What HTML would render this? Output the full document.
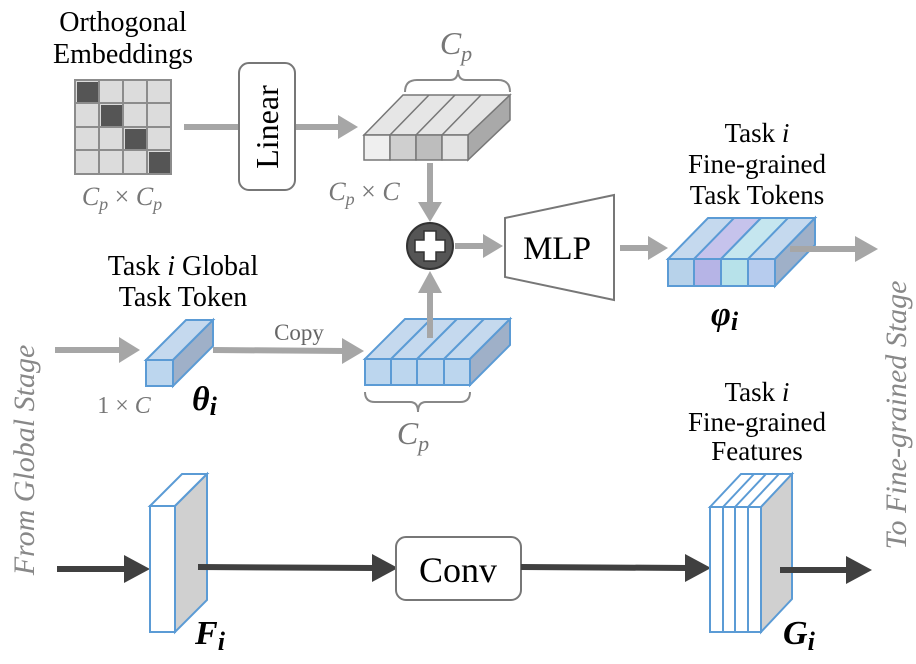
<!DOCTYPE html>
<html><head><meta charset="utf-8"><style>
html,body{margin:0;padding:0;background:#fff;}
svg, svg text, svg tspan{font-family:"Liberation Serif","DejaVu Serif",serif;}
</style></head><body>
<svg width="916" height="659" viewBox="0 0 916 659" xmlns="http://www.w3.org/2000/svg" font-family="Liberation Serif, serif">
<style>text,tspan{font-family:"Liberation Serif","DejaVu Serif",serif;}</style>
<!-- Orthogonal embeddings -->
<text x="123" y="31" font-size="28" text-anchor="middle">Orthogonal</text>
<text x="123" y="63" font-size="28" text-anchor="middle">Embeddings</text>
<g stroke="#8c8c8c" stroke-width="2">
<rect x="75" y="80" width="96" height="94" fill="#dcdcdc"/>
<line x1="99" y1="80" x2="99" y2="174"/><line x1="123" y1="80" x2="123" y2="174"/><line x1="147" y1="80" x2="147" y2="174"/>
<line x1="75" y1="103" x2="171" y2="103"/><line x1="75" y1="127" x2="171" y2="127"/><line x1="75" y1="150" x2="171" y2="150"/>
</g>
<g fill="#555">
<rect x="77" y="82" width="21" height="20"/><rect x="101" y="105" width="21" height="21"/><rect x="125" y="129" width="21" height="20"/><rect x="149" y="152" width="21" height="21"/>
</g>
<text x="122" y="205" font-size="26" font-style="italic" fill="#777" text-anchor="middle">C<tspan font-size="18" dy="5">p</tspan><tspan dy="-5" font-style="normal"> × </tspan>C<tspan font-size="18" dy="5">p</tspan></text>
<!-- Linear -->
<line x1="184" y1="127" x2="340" y2="127" stroke="#a6a6a6" stroke-width="6"/>
<path d="M338,115 L358,127 L338,139z" fill="#a6a6a6"/>
<rect x="239" y="63" width="56" height="127" rx="10" fill="#fff" stroke="#777" stroke-width="2"/>
<text transform="translate(278,127) rotate(-90)" font-size="32" text-anchor="middle">Linear</text>
<!-- gray token block -->
<g stroke="#777" stroke-width="1.5">
<path d="M364,135 L403,95 L510,95 L471,135z" fill="#e6e6e6"/>
<path d="M468,135 L510,95 L510,120 L468,160z" fill="#a9a9a9"/>
<rect x="364" y="135" width="26" height="25" fill="#efefef"/>
<rect x="390" y="135" width="26" height="25" fill="#cfcfcf"/>
<rect x="416" y="135" width="26" height="25" fill="#bdbdbd"/>
<rect x="442" y="135" width="26" height="25" fill="#e4e4e4"/>
<line x1="390" y1="135" x2="429" y2="95"/><line x1="416" y1="135" x2="455" y2="95"/><line x1="442" y1="135" x2="481" y2="95"/>
</g>
<path d="M405,92 Q405,80 417,80 L450,80 Q458,80 458,70 Q458,80 466,80 L498,80 Q510,80 510,92" fill="none" stroke="#888" stroke-width="2"/>
<text x="456" y="54" font-size="32" font-style="italic" fill="#777" text-anchor="middle">C<tspan font-size="22" dy="7">p</tspan></text>
<text x="364" y="200" font-size="26" font-style="italic" fill="#777" text-anchor="middle">C<tspan font-size="18" dy="5">p</tspan><tspan dy="-5" font-style="normal"> × </tspan>C</text>
<line x1="430" y1="163" x2="430" y2="205" stroke="#a6a6a6" stroke-width="6"/>
<path d="M418,202 L430,222 L442,202z" fill="#a6a6a6"/>
<!-- plus -->
<circle cx="430" cy="246" r="23" fill="#555" stroke="#333" stroke-width="2"/>
<path d="M424,231 h12 v9 h9 v12 h-9 v9 h-12 v-9 h-9 v-12 h9z" fill="#fff" stroke="#333" stroke-width="1.5"/>
<line x1="455" y1="246" x2="485" y2="246" stroke="#a6a6a6" stroke-width="6"/>
<path d="M483,234 L503,246 L483,258z" fill="#a6a6a6"/>
<!-- MLP -->
<path d="M505,218 L614,195 L614,300 L505,277z" fill="#fff" stroke="#777" stroke-width="2"/>
<text x="557" y="259" font-size="33" text-anchor="middle">MLP</text>
<line x1="620" y1="248" x2="650" y2="248" stroke="#a6a6a6" stroke-width="6"/>
<path d="M648,236 L668,248 L648,260z" fill="#a6a6a6"/>
<!-- phi block -->
<g stroke="#5b9bd5" stroke-width="2">
<path d="M668,259 L708,218 L815,218 L775,259z" fill="#c5d9ee"/>
<path d="M694,259 L734,218 L761,218 L721,259z" fill="#c6c3ec"/>
<path d="M721,259 L761,218 L788,218 L748,259z" fill="#c5e6ef"/>
<path d="M775,259 L815,218 L815,245 L775,286z" fill="#9fb0c8"/>
<rect x="668" y="259" width="26" height="27" fill="#b7d2ea"/>
<rect x="694" y="259" width="27" height="27" fill="#b6b4e6"/>
<rect x="721" y="259" width="27" height="27" fill="#b7e2ea"/>
<rect x="748" y="259" width="27" height="27" fill="#b7ccee"/>
</g>
<line x1="790" y1="249" x2="858" y2="249" stroke="#a6a6a6" stroke-width="6"/>
<path d="M855,236 L878,249 L855,262z" fill="#a6a6a6"/>
<text x="757" y="142" font-size="27" text-anchor="middle">Task <tspan font-style="italic">i</tspan></text>
<text x="757" y="173" font-size="27" text-anchor="middle">Fine-grained</text>
<text x="757" y="204" font-size="27" text-anchor="middle">Task Tokens</text>
<text x="711" y="325" font-size="34" font-weight="bold" font-style="italic">φ<tspan font-size="26" dy="5">i</tspan></text>
<!-- Global token -->
<text x="183" y="275" font-size="28" text-anchor="middle">Task <tspan font-style="italic">i</tspan> Global</text>
<text x="183" y="306" font-size="28" text-anchor="middle">Task Token</text>
<line x1="55" y1="350" x2="122" y2="350" stroke="#a6a6a6" stroke-width="6"/>
<path d="M119,337 L140,350 L119,363z" fill="#a6a6a6"/>
<g stroke="#5b9bd5" stroke-width="2">
<path d="M146,360 L186,320 L213,320 L173,360z" fill="#c5d9ee"/>
<path d="M173,360 L213,320 L213,346 L173,386z" fill="#9fb0c8"/>
<rect x="146" y="360" width="27" height="26" fill="#bcd6ee"/>
</g>
<line x1="213" y1="350" x2="345" y2="351" stroke="#a6a6a6" stroke-width="6"/>
<path d="M342,338 L364,351 L342,364z" fill="#a6a6a6"/>
<text x="299" y="340" font-size="23" fill="#666" text-anchor="middle">Copy</text>
<text x="124" y="413" font-size="24" fill="#777" text-anchor="middle">1 × <tspan font-style="italic">C</tspan></text>
<text x="192" y="410" font-size="34" font-weight="bold" font-style="italic">θ<tspan font-size="26" dy="5">i</tspan></text>
<!-- blue block -->
<g stroke="#5b9bd5" stroke-width="2">
<path d="M365,359 L405,319 L510,319 L470,359z" fill="#c5d9ee"/>
<path d="M470,359 L510,319 L510,345 L470,385z" fill="#9fb0c8"/>
<rect x="365" y="359" width="26" height="26" fill="#bcd6ee"/>
<rect x="391" y="359" width="26" height="26" fill="#bcd6ee"/>
<rect x="417" y="359" width="27" height="26" fill="#bcd6ee"/>
<rect x="444" y="359" width="26" height="26" fill="#bcd6ee"/>
<line x1="391" y1="359" x2="431" y2="319"/><line x1="417" y1="359" x2="457" y2="319"/><line x1="444" y1="359" x2="484" y2="319"/>
</g>
<line x1="430" y1="338" x2="430" y2="290" stroke="#a6a6a6" stroke-width="6"/>
<path d="M418,293 L430,271 L442,293z" fill="#a6a6a6"/>
<path d="M365,392 Q365,402 375,402 L410,402 Q418,402 418,412 Q418,402 426,402 L460,402 Q470,402 470,392" fill="none" stroke="#888" stroke-width="2"/>
<text x="413" y="444" font-size="32" font-style="italic" fill="#777" text-anchor="middle">C<tspan font-size="22" dy="7">p</tspan></text>
<!-- side texts -->
<text transform="translate(34,460) rotate(-90)" font-size="30" font-style="italic" fill="#888" text-anchor="middle">From Global Stage</text>
<text transform="translate(906,415) rotate(-90)" font-size="30" font-style="italic" fill="#888" text-anchor="middle">To Fine-grained Stage</text>
<!-- bottom -->
<line x1="57" y1="569" x2="128" y2="569" stroke="#404040" stroke-width="6"/>
<path d="M124,555 L150,569 L124,583z" fill="#404040"/>
<g stroke="#5b9bd5" stroke-width="2">
<path d="M150,506 L182,474 L207,474 L175,506z" fill="#fff"/>
<path d="M175,506 L207,474 L207,600 L175,632z" fill="#d0d0d0"/>
<rect x="150" y="506" width="25" height="126" fill="#fff"/>
</g>
<line x1="198" y1="567" x2="375" y2="568" stroke="#404040" stroke-width="6"/>
<path d="M372,554 L398,568 L372,582z" fill="#404040"/>
<rect x="396" y="537" width="125" height="63" rx="10" fill="#fff" stroke="#777" stroke-width="2"/>
<text x="458" y="582" font-size="36" text-anchor="middle">Conv</text>
<line x1="521" y1="567" x2="688" y2="568" stroke="#404040" stroke-width="6"/>
<path d="M685,554 L711,568 L685,582z" fill="#404040"/>
<g stroke="#5b9bd5" stroke-width="2">
<path d="M710,507 L741,474 L792,474 L761,507z" fill="#fff"/>
<line x1="723" y1="507" x2="754" y2="474"/><line x1="735" y1="507" x2="766" y2="474"/><line x1="748" y1="507" x2="779" y2="474"/>
<path d="M761,507 L792,474 L792,599 L761,632z" fill="#d0d0d0"/>
<rect x="710" y="507" width="51" height="125" fill="#fff"/>
<line x1="723" y1="507" x2="723" y2="632"/><line x1="735" y1="507" x2="735" y2="632"/><line x1="748" y1="507" x2="748" y2="632"/>
</g>
<line x1="780" y1="570" x2="850" y2="570" stroke="#404040" stroke-width="6"/>
<path d="M846,556 L872,570 L846,584z" fill="#404040"/>
<text x="757" y="401" font-size="27" text-anchor="middle">Task <tspan font-style="italic">i</tspan></text>
<text x="757" y="431" font-size="27" text-anchor="middle">Fine-grained</text>
<text x="757" y="460" font-size="27" text-anchor="middle">Features</text>
<text x="195" y="644" font-size="34" font-weight="bold" font-style="italic">F<tspan font-size="26" dy="6">i</tspan></text>
<text x="783" y="644" font-size="34" font-weight="bold" font-style="italic">G<tspan font-size="26" dy="6">i</tspan></text>
</svg>
</body></html>
